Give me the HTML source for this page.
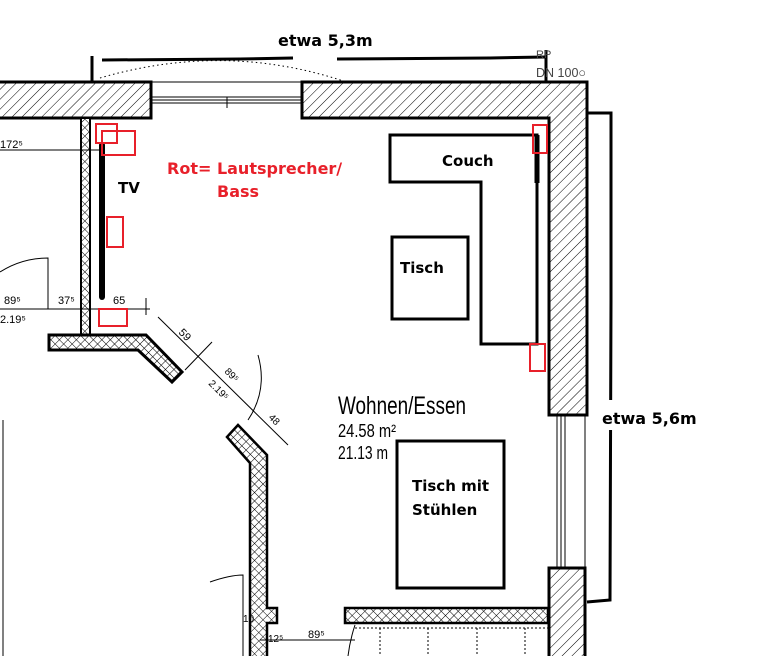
<!DOCTYPE html>
<html><head><meta charset="utf-8"><style>
html,body{margin:0;padding:0;background:#fff;}
svg{display:block}
.b{font-family:"DejaVu Sans","Liberation Sans",sans-serif;font-weight:bold;}
.n{font-family:"Liberation Sans Narrow","Liberation Sans",sans-serif;}
</style></head><body>
<svg width="759" height="656" viewBox="0 0 759 656" xmlns="http://www.w3.org/2000/svg">
<defs>
<pattern id="h" patternUnits="userSpaceOnUse" width="7" height="7" patternTransform="rotate(45)">
<rect width="7" height="7" fill="#fff"/><line x1="0" y1="0" x2="0" y2="7" stroke="#000" stroke-width="1"/></pattern>
<pattern id="x" patternUnits="userSpaceOnUse" width="6" height="6" patternTransform="rotate(45)">
<rect width="6" height="6" fill="#fff"/><line x1="0" y1="0" x2="0" y2="6" stroke="#000" stroke-width="1"/><line x1="0" y1="0" x2="6" y2="0" stroke="#000" stroke-width="1"/></pattern>
</defs>
<rect width="759" height="656" fill="#fff"/>

<text x="278" y="46" class="b" font-size="16">etwa 5,3m</text>
<polyline points="102,60 240,59 293,58" fill="none" stroke="#000" stroke-width="3"/>
<polyline points="337,59 490,58 545,57" fill="none" stroke="#000" stroke-width="3"/>
<line x1="92" y1="56" x2="92" y2="93" stroke="#000" stroke-width="3"/>
<line x1="546" y1="50" x2="546" y2="90" stroke="#000" stroke-width="3"/>
<text x="536" y="58" class="n" font-size="11" fill="#444">RP</text>
<text x="536" y="77" class="n" font-size="13" fill="#444" textLength="50" lengthAdjust="spacingAndGlyphs">DN 100○</text>
<path d="M100,78 Q230,40 355,85" fill="none" stroke="#000" stroke-width="1" stroke-dasharray="1.5,3"/>

<rect x="-2" y="82" width="153" height="36" fill="url(#h)" stroke="#000" stroke-width="3"/>
<path d="M302,82 L587,82 L587,415 L549,415 L549,118 L302,118 Z" fill="url(#h)" stroke="#000" stroke-width="3"/>
<line x1="151" y1="82" x2="302" y2="82" stroke="#000" stroke-width="1"/>
<line x1="151" y1="97" x2="302" y2="97" stroke="#000" stroke-width="1"/>
<line x1="151" y1="100" x2="302" y2="100" stroke="#000" stroke-width="1"/>
<line x1="151" y1="103" x2="302" y2="103" stroke="#000" stroke-width="1"/>
<line x1="227" y1="97" x2="227" y2="108" stroke="#000" stroke-width="1"/>

<rect x="549" y="568" width="36" height="90" fill="url(#h)" stroke="#000" stroke-width="3"/>
<line x1="557" y1="415" x2="557" y2="568" stroke="#000" stroke-width="1"/>
<line x1="561" y1="415" x2="561" y2="568" stroke="#000" stroke-width="1"/>
<line x1="565" y1="415" x2="565" y2="568" stroke="#000" stroke-width="1"/>
<line x1="585" y1="415" x2="585" y2="568" stroke="#000" stroke-width="1"/>

<polyline points="588,113 611,113 611,300 610,600 587,602" fill="none" stroke="#000" stroke-width="3"/>
<rect x="600" y="400" width="110" height="30" fill="#fff"/>
<text x="602" y="424" class="b" font-size="16">etwa 5,6m</text>

<rect x="81" y="118" width="9" height="217" fill="url(#x)" stroke="#000" stroke-width="2"/>
<polygon points="49,335 146,335 182,372 172,382 138,350 49,350" fill="url(#x)" stroke="#000" stroke-width="3"/>

<polygon points="227,437 238,425 267,455 267,608 277,608 277,623 267,623 267,660 250,660 250,463" fill="url(#x)" stroke="#000" stroke-width="2.5"/>
<polygon points="345,608 548,608 548,623 345,623" fill="url(#x)" stroke="#000" stroke-width="2.5"/>
<line x1="355" y1="628" x2="548" y2="628" stroke="#000" stroke-width="1" stroke-dasharray="2,2"/>
<line x1="380" y1="628" x2="380" y2="656" stroke="#000" stroke-width="1" stroke-dasharray="2,2"/>
<line x1="428" y1="628" x2="428" y2="656" stroke="#000" stroke-width="1" stroke-dasharray="2,2"/>
<line x1="477" y1="628" x2="477" y2="656" stroke="#000" stroke-width="1" stroke-dasharray="2,2"/>
<line x1="525" y1="628" x2="525" y2="656" stroke="#000" stroke-width="1" stroke-dasharray="2,2"/>

<line x1="0" y1="150" x2="100" y2="150" stroke="#000" stroke-width="1"/>
<text x="0" y="148" class="n" font-size="11">172⁵</text>
<line x1="0" y1="309" x2="150" y2="309" stroke="#000" stroke-width="1"/>
<text x="4" y="304" class="n" font-size="11">89⁵</text>
<text x="0" y="323" class="n" font-size="11">2.19⁵</text>
<text x="58" y="304" class="n" font-size="11">37⁵</text>
<text x="113" y="304" class="n" font-size="11">65</text>
<path d="M0,272 Q22,258 48,258 L48,309" fill="none" stroke="#000" stroke-width="1"/>
<line x1="146" y1="298" x2="146" y2="315" stroke="#000" stroke-width="1"/>

<line x1="158" y1="317" x2="288" y2="445" stroke="#000" stroke-width="1"/>
<line x1="185" y1="370" x2="212" y2="342" stroke="#000" stroke-width="1"/>
<text x="178" y="333" class="n" font-size="11" transform="rotate(45 178 333)">59</text>
<text x="224" y="372" class="n" font-size="10" transform="rotate(45 224 372)">89⁵</text>
<text x="208" y="384" class="n" font-size="10" transform="rotate(45 208 384)">2.19⁵</text>
<text x="268" y="418" class="n" font-size="10" transform="rotate(45 268 418)">48</text>
<path d="M258,355 Q268,390 248,420" fill="none" stroke="#000" stroke-width="1"/>

<line x1="260" y1="640" x2="355" y2="640" stroke="#000" stroke-width="1"/>
<text x="308" y="638" class="n" font-size="11">89⁵</text>
<text x="243" y="622" class="n" font-size="10">10</text>
<text x="268" y="642" class="n" font-size="10">12⁵</text>
<path d="M210,582 Q230,575 243,575 L243,656" fill="none" stroke="#000" stroke-width="1"/>
<path d="M355,625 Q350,640 348,656" fill="none" stroke="#000" stroke-width="1"/>
<line x1="3" y1="420" x2="3" y2="656" stroke="#000" stroke-width="1"/>

<line x1="102" y1="145" x2="102" y2="297" stroke="#000" stroke-width="6" stroke-linecap="round"/>
<text x="118" y="193" class="b" font-size="15">TV</text>
<text x="167" y="174" class="b" font-size="16" fill="#e8202a">Rot= Lautsprecher/</text>
<text x="217" y="197" class="b" font-size="16" fill="#e8202a">Bass</text>

<path d="M390,135 L537,135 L537,344 L481,344 L481,182 L390,182 Z" fill="none" stroke="#000" stroke-width="3"/>
<line x1="537" y1="135" x2="537" y2="183" stroke="#000" stroke-width="5"/>
<text x="442" y="166" class="b" font-size="15">Couch</text>
<rect x="392" y="237" width="76" height="82" fill="none" stroke="#000" stroke-width="3"/>
<text x="400" y="273" class="b" font-size="15">Tisch</text>
<rect x="397" y="441" width="107" height="147" fill="none" stroke="#000" stroke-width="3"/>
<text x="412" y="491" class="b" font-size="15">Tisch mit</text>
<text x="412" y="515" class="b" font-size="15">Stühlen</text>

<text x="338" y="414" class="n" font-size="25" textLength="128" lengthAdjust="spacingAndGlyphs">Wohnen/Essen</text>
<text x="338" y="437" class="n" font-size="18" textLength="58" lengthAdjust="spacingAndGlyphs">24.58 m²</text>
<text x="338" y="459" class="n" font-size="18" textLength="50" lengthAdjust="spacingAndGlyphs">21.13 m</text>

<g fill="none" stroke="#e8202a" stroke-width="2">
<rect x="96" y="124" width="21" height="19"/>
<rect x="102" y="131" width="33" height="24"/>
<rect x="107" y="217" width="16" height="30"/>
<rect x="99" y="309" width="28" height="17"/>
<rect x="533" y="125" width="14" height="28"/>
<rect x="530" y="344" width="15" height="27"/>
</g>
</svg>
</body></html>
